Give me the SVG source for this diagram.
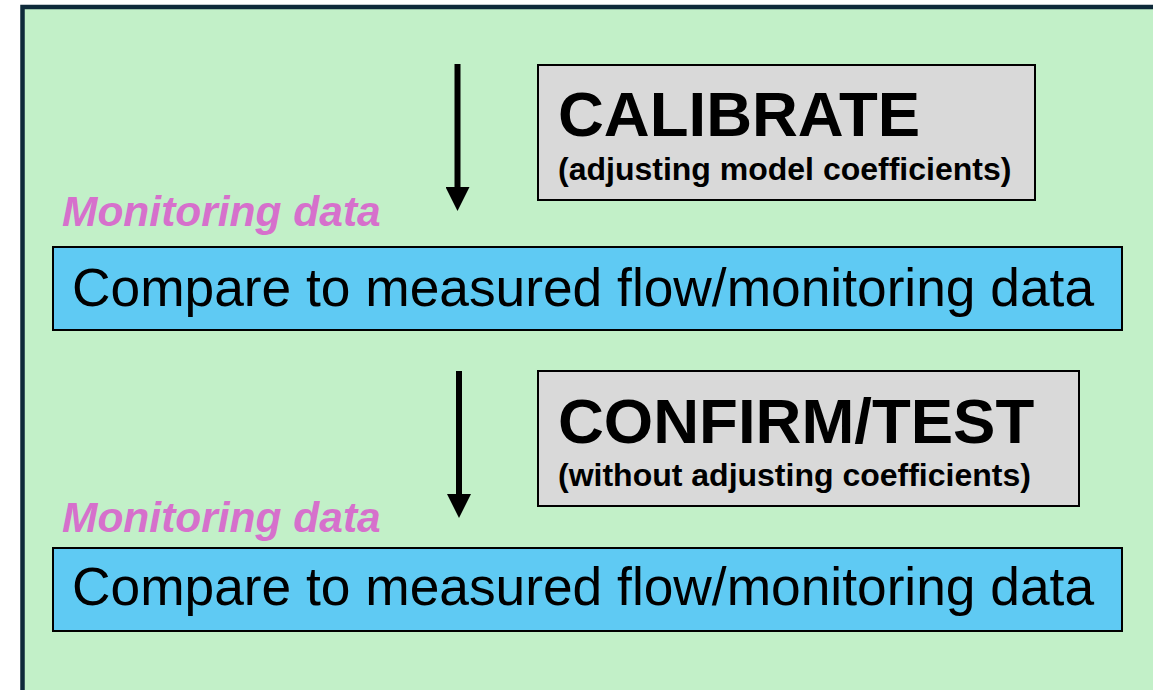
<svg xmlns="http://www.w3.org/2000/svg" width="1153" height="690" viewBox="0 0 1153 690">
<defs>
<style>
.frame{fill:#c2f0c8;stroke:#0e2a3a;stroke-width:4.5}
.gray{fill:#d9d9d9;stroke:#000;stroke-width:2}
.blue{fill:#5fcaf3;stroke:#000;stroke-width:2}
.title{font-family:"Liberation Sans",Arial,sans-serif;font-weight:bold;font-size:63.5px;fill:#000}
.sub{font-family:"Liberation Sans",Arial,sans-serif;font-weight:bold;font-size:32px;fill:#000}
.mon{font-family:"Liberation Sans",Arial,sans-serif;font-weight:bold;font-style:italic;font-size:42.5px;fill:#d670cc}
.cmp{font-family:"Liberation Sans",Arial,sans-serif;font-size:53.3px;fill:#000}
.shaft{stroke:#000;stroke-width:6}
</style>
<marker id="ah" markerUnits="userSpaceOnUse" markerWidth="24" markerHeight="24" refX="0" refY="12" orient="auto" viewBox="0 0 24 24">
<path d="M0,0 L24,12 L0,24 Z" fill="#000"/>
</marker>
</defs>
<rect class="frame" x="22.5" y="7" width="1160" height="700"/>
<g id="connectors">
<line class="shaft" x1="457.5" y1="64" x2="457.5" y2="187" marker-end="url(#ah)"/>
<line class="shaft" x1="459" y1="371" x2="459" y2="494" marker-end="url(#ah)"/>
</g>
<g id="calibrate">
<rect class="gray" x="538" y="65" width="497" height="135"/>
<text class="title" x="558" y="136">CALIBRATE</text>
<text class="sub" x="558" y="180">(adjusting model coefficients)</text>
</g>
<g id="monitoring1">
<text class="mon" x="62" y="226">Monitoring data</text>
</g>
<g id="compare1">
<rect class="blue" x="53" y="247" width="1069" height="83"/>
<text class="cmp" x="72" y="306">Compare to measured flow/monitoring data</text>
</g>
<g id="confirm">
<rect class="gray" x="538" y="371" width="541" height="135"/>
<text class="title" x="558" y="443">CONFIRM/TEST</text>
<text class="sub" x="558" y="486">(without adjusting coefficients)</text>
</g>
<g id="monitoring2">
<text class="mon" x="62" y="532">Monitoring data</text>
</g>
<g id="compare2">
<rect class="blue" x="53" y="548" width="1069" height="83"/>
<text class="cmp" x="72" y="605">Compare to measured flow/monitoring data</text>
</g>
</svg>
